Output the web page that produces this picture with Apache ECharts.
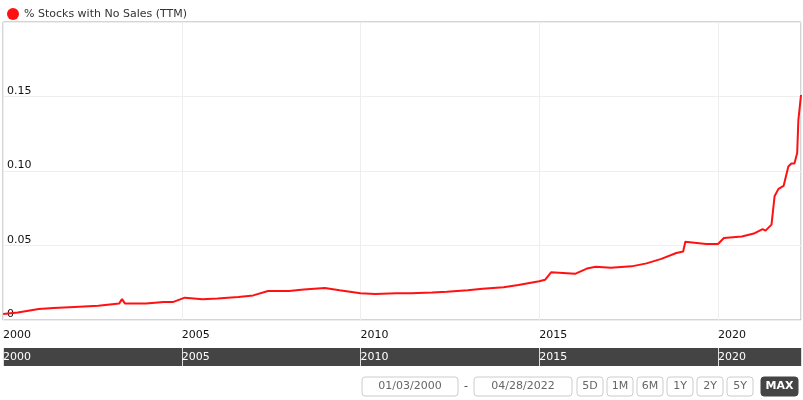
<!DOCTYPE html>
<html><head><meta charset="utf-8">
<script src="https://cdn.jsdelivr.net/npm/echarts@6/dist/echarts.min.js"></script>
<style>html,body{margin:0;padding:0;background:#fff}#c{width:803px;height:400px}</style>
</head><body><div id="c"></div>
<script>
var seriesName = '% Stocks with No Sales (TTM)';
var dates = ['2000-01-03','2000-06-01','2001-01-01','2001-06-01','2002-01-01','2002-09-01','2003-04-01','2003-05-01','2003-06-01','2004-01-01','2004-07-01','2004-10-01','2005-02-01','2005-08-01','2006-01-01','2006-08-01','2007-01-01','2007-06-01','2008-01-01','2008-06-01','2009-01-01','2009-06-01','2010-01-01','2010-06-01','2011-01-01','2011-06-01','2012-01-01','2012-06-01','2013-01-01','2013-06-01','2014-01-01','2014-06-01','2015-01-01','2015-03-01','2015-05-01','2016-01-01','2016-05-01','2016-08-01','2017-01-01','2017-08-01','2018-01-01','2018-06-01','2018-11-01','2019-01-10','2019-02-01','2019-09-01','2020-01-01','2020-03-01','2020-09-01','2021-01-01','2021-04-01','2021-05-01','2021-07-01','2021-07-20','2021-08-01','2021-09-10','2021-11-01','2021-12-20','2022-01-20','2022-02-20','2022-03-20','2022-04-01','2022-04-28'];
var values = [0.004,0.005,0.0074,0.008,0.0087,0.0095,0.011,0.014,0.011,0.011,0.012,0.012,0.015,0.014,0.0145,0.0155,0.0165,0.0195,0.0195,0.0205,0.0215,0.02,0.018,0.0175,0.018,0.018,0.0185,0.019,0.02,0.021,0.022,0.0235,0.026,0.027,0.032,0.031,0.0345,0.0357,0.035,0.036,0.038,0.041,0.045,0.046,0.0525,0.051,0.051,0.055,0.056,0.058,0.061,0.06,0.064,0.065,0.083,0.088,0.09,0.103,0.105,0.105,0.112,0.134,0.151];
var yTicks = [0, 0.05, 0.10, 0.15];
var rangeLabels = ['01/03/2000', '04/28/2022'];
var buttons = ['5D', '1M', '6M', '1Y', '2Y', '5Y', 'MAX'];

// dates -> decimal years so the axis can tick every 5 years from 2000
function toYear(s) {
  var d = new Date(s + 'T00:00:00Z'), y = d.getUTCFullYear();
  var a = Date.UTC(y, 0, 1), b = Date.UTC(y + 1, 0, 1);
  return y + (d.getTime() - a) / (b - a);
}
var xMin = 2000, xMax = toYear(dates[dates.length - 1]);
var data = dates.map(function (d, i) { return [toYear(d), values[i]]; });
var font = 'DejaVu Sans';
var graphics = [];
function box(x, w, label, active) {
  graphics.push({ type: 'rect', shape: { x: x, y: 377, width: w, height: 19, r: 3 },
    style: { fill: active ? '#444' : '#fff', stroke: active ? '#444' : '#ccc', lineWidth: 1 } });
  graphics.push({ type: 'text', x: x + w / 2, y: 386.5,
    style: { text: label, fill: active ? '#fff' : '#666', font: (active ? 'bold ' : '') + '11px ' + font, align: 'center', verticalAlign: 'middle' } });
}
box(362, 96, rangeLabels[0]);
graphics.push({ type: 'text', x: 466, y: 386.5, style: { text: '-', fill: '#333', font: '11px ' + font, align: 'center', verticalAlign: 'middle' } });
box(474, 98, rangeLabels[1]);
var bx = [577, 607, 637, 667, 697, 727, 761];
buttons.forEach(function (b, i) { box(bx[i], b === 'MAX' ? 37 : 26, b, b === 'MAX'); });

var chart = echarts.init(document.getElementById('c'));
chart.setOption({
  animation: false,
  textStyle: { fontFamily: font },
  legend: { left: 2, top: 3, icon: 'circle', itemWidth: 12, itemHeight: 12, itemGap: 5,
    textStyle: { fontSize: 11, color: '#333', fontFamily: font } },
  grid: [
    { left: 2, right: 2, top: 22, height: 298, show: true, borderColor: '#aaa', borderWidth: 1, backgroundColor: '#fff' },
    { left: 2, right: 2, top: 348, height: 18, show: true, borderWidth: 0, backgroundColor: '#444' }
  ],
  xAxis: [
    { type: 'value', gridIndex: 0, min: xMin, max: xMax, interval: 5,
      axisLine: { show: false }, axisTick: { show: false },
      splitLine: { show: true, lineStyle: { color: '#eee' } },
      axisLabel: { color: '#111', fontSize: 11, margin: 10, align: 'left', showMaxLabel: false,
        formatter: function (v) { return String(Math.round(v)); } } },
    { type: 'value', gridIndex: 1, min: xMin, max: xMax, interval: 5,
      axisLine: { show: false }, axisTick: { show: false },
      splitLine: { show: true, lineStyle: { color: '#ddd' } },
      axisLabel: { inside: true, color: '#fff', fontSize: 11, margin: 3, align: 'left', showMaxLabel: false,
        formatter: function (v) { return String(Math.round(v)); } } }
  ],
  yAxis: [
    { type: 'value', gridIndex: 0, min: 0, max: 0.2, interval: 0.05,
      axisLine: { show: false }, axisTick: { show: false },
      splitLine: { lineStyle: { color: '#eee' } },
      axisLabel: { inside: true, color: '#111', fontSize: 11, margin: 4, verticalAlign: 'bottom',
        formatter: function (v) { return yTicks.indexOf(Math.round(v * 100) / 100) >= 0 ? (v === 0 ? '0' : v.toFixed(2)) : ''; } } },
    { type: 'value', gridIndex: 1, show: false }
  ],
  series: [{ name: seriesName, type: 'line', xAxisIndex: 0, yAxisIndex: 0, data: data,
    showSymbol: false, itemStyle: { color: '#ff1111' }, lineStyle: { color: '#ff1111', width: 2 } }],
  graphic: graphics
});
</script></body></html>
